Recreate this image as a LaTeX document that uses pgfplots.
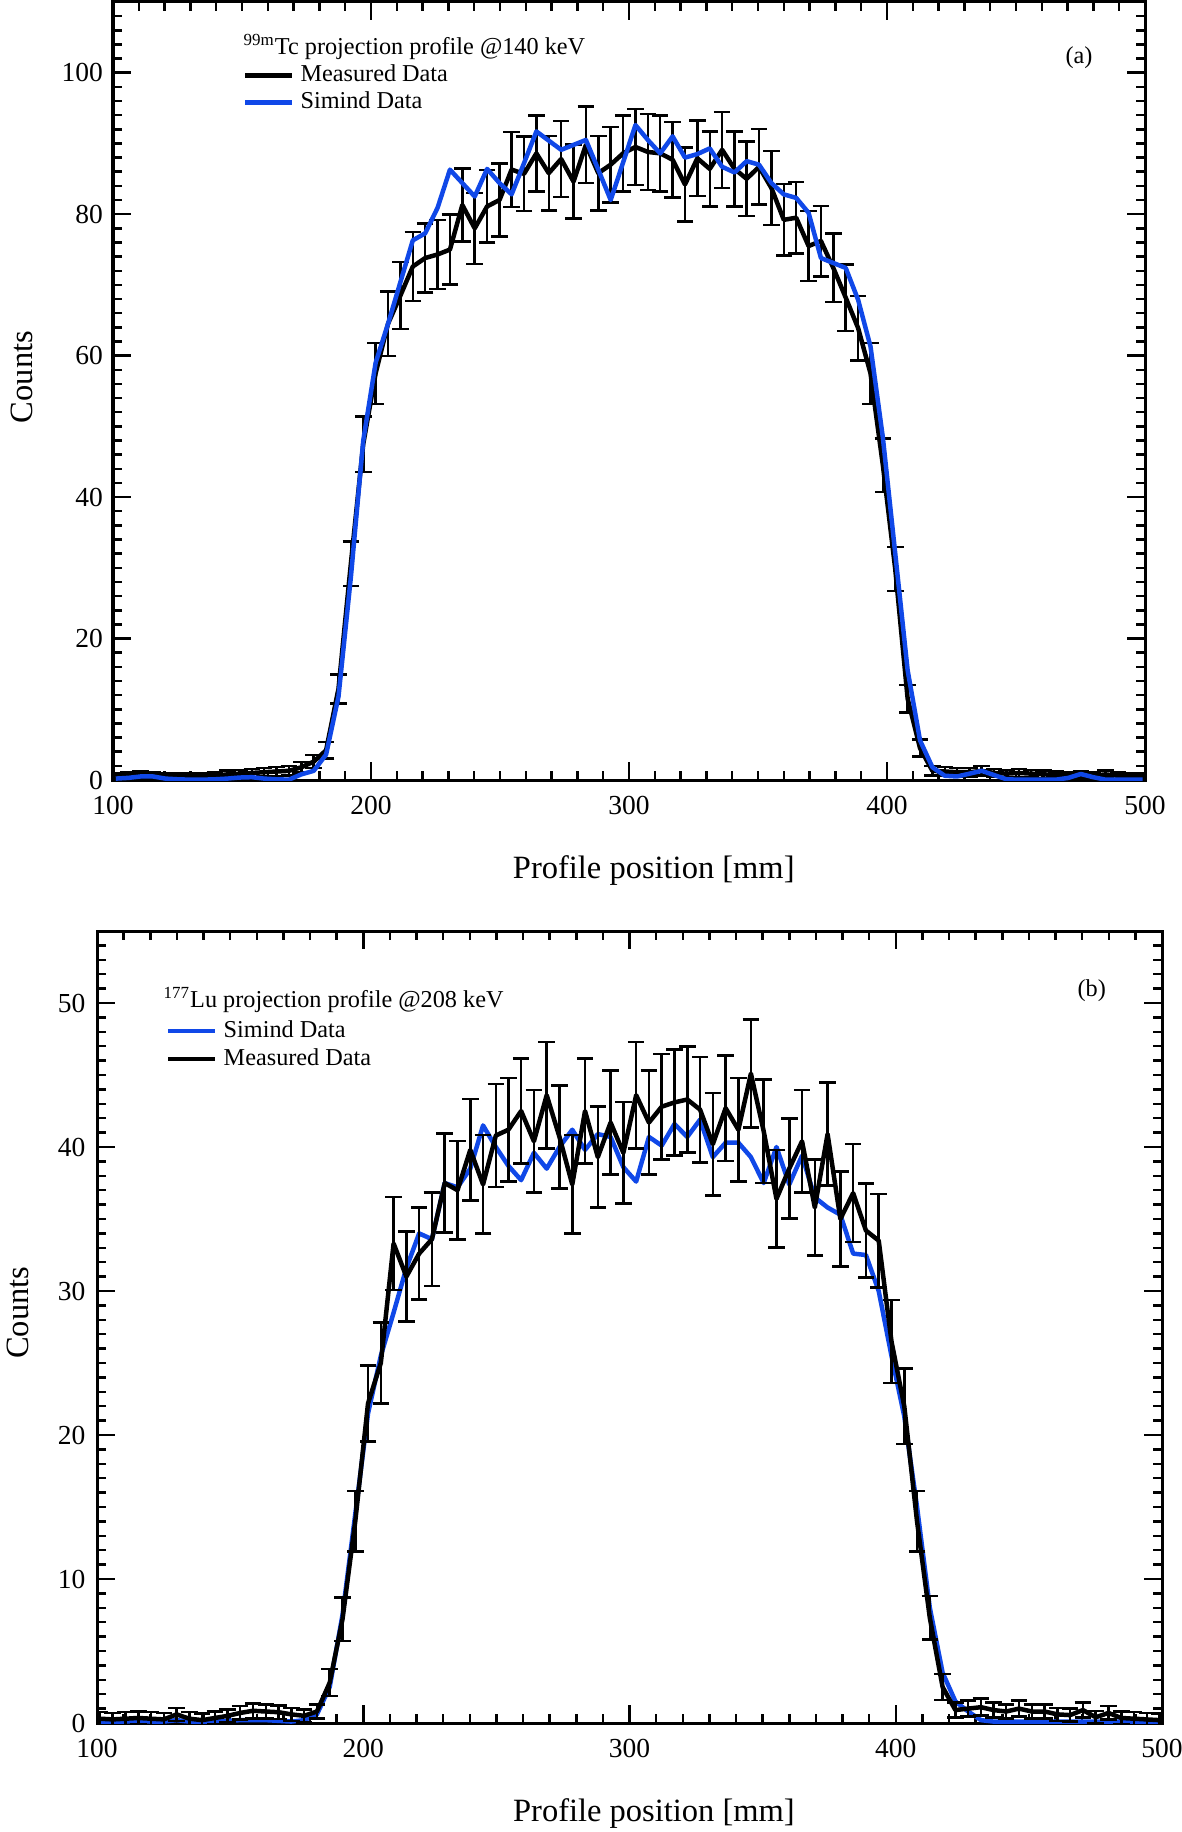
\documentclass[border=0pt]{standalone}
\usepackage{fontspec}
\setmainfont{Liberation Serif}
\usepackage{pgfplots}
\usepackage{pgfplotstable}
\pgfplotsset{compat=1.18}
\definecolor{simblue}{RGB}{16,72,232}

% Panel (a): measured (x, counts, error)
\pgfplotstableread{
x y e
101.1 0.5 0.45
105.9 0.6 0.45
110.7 0.7 0.48
115.5 0.6 0.45
120.3 0.5 0.45
125.1 0.55 0.45
129.9 0.5 0.45
134.7 0.45 0.45
139.5 0.6 0.45
144.3 0.8 0.51
149.1 0.9 0.54
153.8 1.0 0.57
158.6 1.1 0.60
163.4 1.2 0.62
168.2 1.3 0.65
173.0 1.8 0.76
177.8 2.6 0.92
182.6 4.2 1.17
187.4 12.9 2.05
192.2 30.6 3.15
197.0 47.5 3.93
201.8 57.5 4.32
206.6 64.5 4.58
211.4 68.5 4.72
216.2 72.6 4.86
221.0 73.8 4.90
225.8 74.3 4.91
230.6 75.0 4.94
235.4 81.3 5.14
240.2 78.0 5.03
245.0 81.1 5.13
249.8 82.0 5.16
254.5 86.3 5.30
259.3 85.7 5.28
264.1 88.6 5.37
268.9 85.8 5.28
273.7 87.8 5.34
278.5 84.6 5.24
283.3 89.8 5.40
288.1 85.8 5.28
292.9 87.0 5.32
297.7 88.6 5.37
302.5 89.5 5.39
307.3 88.8 5.37
312.1 88.6 5.37
316.9 87.7 5.34
321.7 84.2 5.23
326.5 87.9 5.34
331.3 86.4 5.30
336.1 89.1 5.38
340.9 86.4 5.30
345.6 85.0 5.26
350.4 86.7 5.31
355.2 83.7 5.21
360.0 79.2 5.07
364.8 79.5 5.08
369.6 75.5 4.95
374.4 76.2 4.98
379.2 72.4 4.85
384.0 68.2 4.71
388.8 63.9 4.56
393.6 57.5 4.32
398.4 44.5 3.80
403.2 29.8 3.11
408.0 11.5 1.93
412.8 4.5 1.21
417.6 1.3 0.65
422.4 1.2 0.62
427.2 1.1 0.60
432.0 1.1 0.60
436.7 1.3 0.65
441.5 1.0 0.57
446.3 0.9 0.54
451.1 1.0 0.57
455.9 0.9 0.54
460.7 0.8 0.51
465.5 0.7 0.48
470.3 0.6 0.45
475.1 0.7 0.48
479.9 0.6 0.45
484.7 0.8 0.51
489.5 0.6 0.45
494.3 0.5 0.45
499.1 0.5 0.45
}\measA

% Panel (a): simulated
\pgfplotstableread{
x y
101.1 0.2
105.9 0.3
110.7 0.5
115.5 0.5
120.3 0.2
125.1 0.1
129.9 0.05
134.7 0.05
139.5 0.1
144.3 0.2
149.1 0.35
153.8 0.4
158.6 0.2
163.4 0.1
168.2 0.05
173.0 0.8
177.8 1.3
182.6 3.6
187.4 11.8
192.2 28.7
197.0 48.0
201.8 59.0
206.6 64.5
211.4 70.4
216.2 76.3
221.0 77.3
225.8 80.9
230.6 86.3
235.4 84.4
240.2 82.5
245.0 86.4
249.8 84.4
254.5 82.8
259.3 87.2
264.1 91.7
268.9 90.4
273.7 89.1
278.5 89.8
283.3 90.5
288.1 86.3
292.9 82.0
297.7 87.3
302.5 92.6
307.3 90.5
312.1 88.6
316.9 91.0
321.7 88.0
326.5 88.5
331.3 89.3
336.1 86.7
340.9 85.9
345.6 87.5
350.4 87.0
355.2 84.4
360.0 82.8
364.8 82.3
369.6 80.2
374.4 73.8
379.2 73.1
384.0 72.4
388.8 67.9
393.6 61.3
398.4 48.4
403.2 32.0
408.0 15.5
412.8 5.6
417.6 1.8
422.4 0.6
427.2 0.5
432.0 0.9
436.7 1.3
441.5 0.7
446.3 0.1
451.1 0.05
455.9 0.05
460.7 0.05
465.5 0.05
470.3 0.3
475.1 0.85
479.9 0.4
484.7 0.05
489.5 0.05
494.3 0.05
499.1 0.05
}\simA

% Panel (b): measured
\pgfplotstableread{
x y e
101.1 0.3 0.45
105.9 0.25 0.45
110.7 0.3 0.45
115.5 0.35 0.45
120.3 0.3 0.45
125.1 0.25 0.45
129.9 0.6 0.45
134.7 0.3 0.45
139.5 0.2 0.45
144.3 0.35 0.45
149.1 0.5 0.45
153.8 0.7 0.47
158.6 0.85 0.52
163.4 0.8 0.50
168.2 0.75 0.48
173.0 0.6 0.45
177.8 0.5 0.45
182.6 0.8 0.50
187.4 2.8 0.94
192.2 7.2 1.50
197.0 14.0 2.10
201.8 22.2 2.64
206.6 25.0 2.80
211.4 33.3 3.23
216.2 31.0 3.12
221.0 32.6 3.20
225.8 33.6 3.25
230.6 37.5 3.43
235.4 37.0 3.41
240.2 39.8 3.53
245.0 37.4 3.42
249.8 40.8 3.58
254.5 41.2 3.59
259.3 42.5 3.65
264.1 40.4 3.56
268.9 43.6 3.70
273.7 40.7 3.57
278.5 37.4 3.42
283.3 42.5 3.65
288.1 39.3 3.51
292.9 41.7 3.62
297.7 39.6 3.52
302.5 43.6 3.70
307.3 41.7 3.62
312.1 42.8 3.66
316.9 43.1 3.68
321.7 43.3 3.68
326.5 42.6 3.66
331.3 40.2 3.55
336.1 42.7 3.66
340.9 41.2 3.59
345.6 45.1 3.76
350.4 41.1 3.59
355.2 36.4 3.38
360.0 38.5 3.47
364.8 40.4 3.56
369.6 35.8 3.35
374.4 40.9 3.58
379.2 35.0 3.31
384.0 36.8 3.40
388.8 34.2 3.27
393.6 33.5 3.24
398.4 26.5 2.88
403.2 22.0 2.63
408.0 14.0 2.10
412.8 7.3 1.51
417.6 2.5 0.89
422.4 0.9 0.53
427.2 1.0 0.56
432.0 1.1 0.59
436.7 0.9 0.53
441.5 0.8 0.50
446.3 1.0 0.56
451.1 0.8 0.50
455.9 0.8 0.50
460.7 0.6 0.45
465.5 0.55 0.45
470.3 0.9 0.53
475.1 0.4 0.45
479.9 0.7 0.47
484.7 0.35 0.45
489.5 0.3 0.45
494.3 0.25 0.45
499.1 0.2 0.45
}\measB

% Panel (b): simulated
\pgfplotstableread{
x y
101.1 0.1
105.9 0.1
110.7 0.1
115.5 0.15
120.3 0.1
125.1 0.1
129.9 0.2
134.7 0.1
139.5 0.1
144.3 0.1
149.1 0.15
153.8 0.2
158.6 0.2
163.4 0.2
168.2 0.15
173.0 0.1
177.8 0.2
182.6 0.6
187.4 2.5
192.2 7.5
197.0 14.5
201.8 21.5
206.6 25.5
211.4 28.5
216.2 31.6
221.0 34.0
225.8 33.6
230.6 37.5
235.4 37.2
240.2 38.5
245.0 41.5
249.8 40.0
254.5 38.7
259.3 37.7
264.1 39.6
268.9 38.5
273.7 40.0
278.5 41.2
283.3 39.8
288.1 40.9
292.9 40.7
297.7 38.6
302.5 37.6
307.3 40.7
312.1 40.1
316.9 41.6
321.7 40.7
326.5 41.9
331.3 39.3
336.1 40.3
340.9 40.3
345.6 39.3
350.4 37.5
355.2 40.0
360.0 37.4
364.8 39.4
369.6 36.5
374.4 35.8
379.2 35.3
384.0 32.6
388.8 32.5
393.6 30.0
398.4 25.5
403.2 21.3
408.0 15.0
412.8 8.0
417.6 3.5
422.4 1.5
427.2 0.8
432.0 0.2
436.7 0.1
441.5 0.1
446.3 0.1
451.1 0.1
455.9 0.1
460.7 0.1
465.5 0.1
470.3 0.1
475.1 0.1
479.9 0.1
484.7 0.1
489.5 0.1
494.3 0.1
499.1 0.1
}\simB

\pgfplotsset{
  profaxis/.style={
    scale only axis,
    xmin=100, xmax=500,
    xtick={100,200,...,500},
    minor xtick={100,110,...,500},
    tick align=inside,
    major tick length=7.2pt,
    minor tick length=3.6pt,
    every tick/.append style={black, line width=1pt},
    every minor tick/.append style={black, line width=1pt},
    axis line style={line width=1.2pt},
    tick label style={font=\fontsize{11}{13}\selectfont},
    label style={font=\fontsize{13}{15}\selectfont},
    /pgf/number format/assume math mode=true,
    xlabel={Profile position [mm]},
    ylabel={Counts},
    legend cell align=left,
    legend image code/.code={\draw[##1, line width=1.8pt] (0pt,0pt) -- (18.8pt,0pt);},
    every axis plot/.append style={line join=round},
  },
  measstyle/.style={black, line width=1.8pt,
    error bars/.cd, y dir=both, y explicit,
    error bar style={line width=1pt, black},
    error mark options={rotate=90, mark size=3.3pt, line width=1pt, black}},
  simstyle/.style={simblue, line width=1.8pt},
}

\begin{document}
\begin{tikzpicture}
\useasboundingbox (0pt,0pt) rectangle (472.4pt,-732.8pt);
% ---------------- Panel (a) ----------------
\begin{axis}[profaxis,
  at={(45.2pt,-312pt)}, anchor=south west,
  width=412.8pt, height=311.2pt,
  ymin=0, ymax=110,
  ytick={0,20,...,100},
  minor ytick={0,2,...,110},
  xticklabel style={yshift=-3.1pt},
  yticklabel style={xshift=-0.5pt},
  xlabel style={at={(axis description cs:0.524,-0.116)}, anchor=center},
  ylabel style={at={(axis description cs:-0.088,0.518)}, anchor=center},
  legend style={at={(rel axis cs:0.1260,0.9200)}, anchor=north west,
    draw=none, fill=none, inner sep=0pt, outer sep=0pt,
    row sep=1.8pt, column sep=2.4pt,
    font=\fontsize{9.7}{11.6}\selectfont,
    nodes={inner sep=0pt, text height=7pt, text depth=2pt}},
]
\addplot[measstyle] table[x=x, y=y, y error=e] {\measA};
\addlegendentry{Measured Data}
\addplot[simstyle] table[x=x, y=y] {\simA};
\addlegendentry{Simind Data}
\node[anchor=base west, font=\fontsize{9.7}{11.6}\selectfont, inner sep=0pt]
  at (rel axis cs:0.126,0.932) {\textsuperscript{99m}Tc projection profile @140 keV};
\node[anchor=center, font=\fontsize{9.7}{11.6}\selectfont, inner sep=0pt]
  at (rel axis cs:0.936,0.929) {(a)};
\end{axis}
% ---------------- Panel (b) ----------------
\begin{axis}[profaxis,
  at={(38.8pt,-689.2pt)}, anchor=south west,
  width=426pt, height=316.8pt,
  ymin=0, ymax=55,
  ytick={0,10,...,50},
  minor ytick={0,1,...,55},
  xticklabel style={yshift=-2.9pt},
  yticklabel style={xshift=-1.1pt},
  xlabel style={at={(axis description cs:0.523,-0.114)}, anchor=center},
  ylabel style={at={(axis description cs:-0.0746,0.518)}, anchor=center},
  legend style={at={(rel axis cs:0.0650,0.888)}, anchor=north west,
    draw=none, fill=none, inner sep=0pt, outer sep=0pt,
    row sep=2.2pt, column sep=2.4pt,
    font=\fontsize{9.7}{11.6}\selectfont,
    nodes={inner sep=0pt, text height=7pt, text depth=2pt}},
]
\addplot[simstyle] table[x=x, y=y] {\simB};
\addlegendentry{Simind Data}
\addplot[measstyle] table[x=x, y=y, y error=e] {\measB};
\addlegendentry{Measured Data}
\node[anchor=base west, font=\fontsize{9.7}{11.6}\selectfont, inner sep=0pt]
  at (rel axis cs:0.062,0.903) {\textsuperscript{177}Lu projection profile @208 keV};
\node[anchor=center, font=\fontsize{9.7}{11.6}\selectfont, inner sep=0pt]
  at (rel axis cs:0.934,0.925) {(b)};
\end{axis}
\end{tikzpicture}
\end{document}
